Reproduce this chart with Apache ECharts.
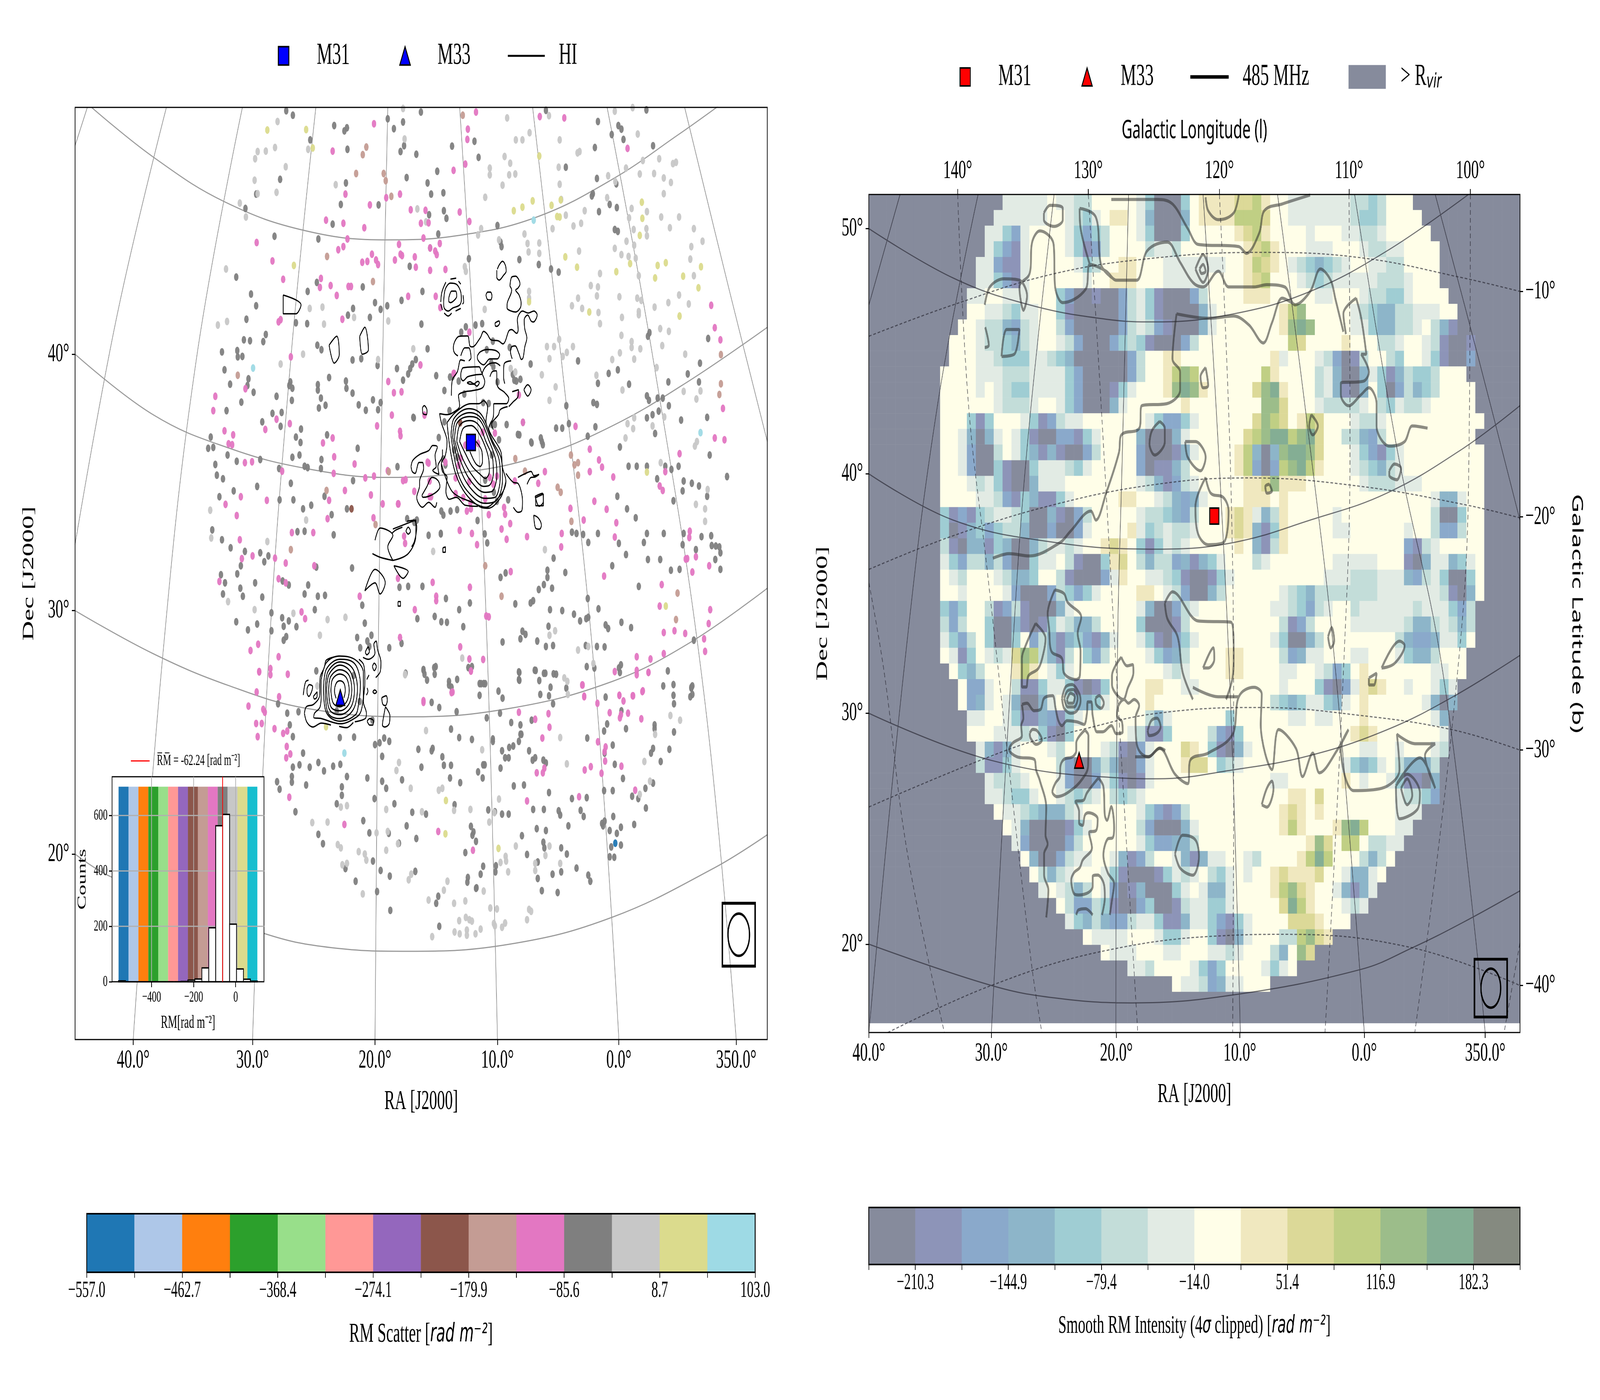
<!DOCTYPE html>
<html><head><meta charset="utf-8">
<style>html,body{margin:0;padding:0;background:#fff;overflow:hidden}#c{width:7140px;height:3585px;transform-origin:0 0}</style>
<script src="https://cdn.jsdelivr.net/npm/echarts@6/dist/echarts.min.js"></script>
</head><body><div id="c"></div>
<script>
// ---- left colour scale
const scatterColors=['#1f77b4','#aec7e8','#ff7f0e','#2ca02c','#98df8a','#ff9896','#9467bd','#8c564b','#c49c94','#e377c2','#7f7f7f','#c7c7c7','#dbdb8d','#9edae5'];
const scatterEdges=[-557,-509.9,-462.7,-415.6,-368.4,-321.3,-274.1,-227,-179.9,-132.7,-85.6,-38.4,8.7,55.9,103];
const scatterEdgeLabels=[-557,-462.7,-368.4,-274.1,-179.9,-85.6,8.7,103];
// ---- right colour scale
const heatColors=['#868b9c','#8d94b8','#8aa9cb','#8db5c9','#9fcdd3','#c3ddd9','#e2ebe4','#fffee8','#f0e8bf','#dcd998','#c0cf84','#9cbd8a','#84ae94','#858a80'];
const heatEdges=[-243,-210.3,-177.5,-144.9,-112.1,-79.4,-46.7,-14,18.7,51.4,84.2,116.9,149.6,182.3,215];
const heatEdgeLabels=[-210.3,-144.9,-79.4,-14,51.4,116.9,182.3];
// ---- axis ticks
const raTicksL=[261,495,735,975,1213,1443], raLabels=['40.0°','30.0°','20.0°','10.0°','0.0°','350.0°'];
const decTicksL=[790,1362,1905], decLabelsL=['40°','30°','20°'];
const raTicksR=[135,375,620,862,1106,1343];
const decTicksR=[510,1057,1591,2106], decLabelsR=['50°','40°','30°','20°'];
const lonTicks=[309,565,822,1076,1314], lonLabels=['140°','130°','120°','110°','100°'];
const latTicks=[650,1153,1673,2198], latLabels=['−10°','−20°','−30°','−40°'];
// ---- histogram inset
const histStart=[-557,-524,-491,-458,-425,-392,-359,-326,-293,-260,-227,-194,-161,-128,-95,-62,-29,4,37,70];
const histCounts=[3,0,0,0,0,0,0,0,0,1,6,10,50,195,563,604,208,46,9,2];
const meanRM=-62.24;
const bandColors=['#1f77b4','#aec7e8','#ff7f0e','#2ca02c','#98df8a','#ff9896','#9467bd','#8c564b','#c49c94','#e377c2','#7f7f7f','#c7c7c7','#dbdb8d','#17becf'];
// ---- RM sources, upper sheet (sky-plane units A)
const ptsPinkA=[[733,276],[933,250],[1106,263],[1058,260],[917,288],[916,311],[1230,331],[652,337],[912,366],[889,380],[677,433],[784,433],[725,457],[757,441],[805,468],[834,469],[901,473],[825,498],[840,497],[920,494],[639,491],[673,498],[714,508],[830,531],[681,533],[503,541],[782,545],[862,543],[843,553],[673,550],[663,557],[853,560],[856,568],[729,567],[785,567],[813,573],[534,582],[710,585],[720,583],[737,580],[741,590],[774,580],[788,570],[815,596],[843,603],[873,601],[555,623],[629,621],[627,641],[648,637],[683,639],[688,639],[660,659],[800,661],[854,661],[863,686],[550,713],[546,718],[671,712],[570,796],[824,814],[761,851],[772,876],[787,874],[889,833],[1017,881],[422,884],[418,916],[481,867],[832,926],[768,926],[542,935],[568,945],[520,958],[440,961],[457,970],[448,990],[455,992],[739,950],[784,962],[785,972],[652,977],[633,988],[1025,942],[1128,951],[655,1019],[480,1032],[494,1030],[695,1035],[553,1051],[654,1056],[716,1066],[733,1062],[795,1070],[790,1072],[760,1050],[840,1033],[1068,1052],[1156,1002],[1174,1026],[1180,1042],[1156,1052],[1202,1064],[1293,1084],[1299,1094],[1304,1052],[1332,1012],[1412,758],[1401,731],[1394,681],[1417,911],[1401,977],[1420,981],[472,1108],[442,1125],[464,1150],[523,1116],[676,1094],[645,1116],[642,1157],[727,1104],[732,1155],[750,1124],[781,1124],[842,1108],[901,1183],[925,1190],[983,1180],[988,1132],[990,1147],[1000,1168],[993,1203],[935,1215],[1033,1197],[1101,1190],[1100,1220],[1118,1134],[1144,1160],[1165,1118],[1189,1136],[1208,1166],[1205,1198],[1184,1285],[1297,1304],[1293,1352],[1392,1360],[1389,1391],[1352,1185],[1351,1199],[1347,1246],[1344,1247],[1357,1276],[1364,1242],[1390,1262],[572,1188],[614,1188],[470,1204],[474,1246],[495,1240],[539,1245],[560,1256],[616,1262],[430,1297],[546,1291],[560,1300],[705,1330],[813,1360],[848,1299],[855,1330],[855,1340],[780,1290],[921,1310],[1001,1275],[953,1374],[958,1376],[591,1365],[598,1380],[491,1451],[506,1437],[546,1465],[508,1498],[530,1505],[784,1422],[902,1443],[1382,1453],[1380,1425],[1301,1411],[1322,1407],[1343,1413],[1248,1465],[1275,1470],[1301,1458],[1248,1505],[1271,1500],[1205,1498],[1141,1528],[1214,1551],[1240,1552],[1260,1541],[1145,1553],[920,1470],[947,1471],[923,1497],[830,1563],[885,1545],
[920,741],[890,833],[970,966],[946,964],[912,993],[937,989],[903,1022],[899,1038],[873,1031],[893,1066],[960,1065],[967,1080],[974,1062],[920,1074],[893,1101],[908,1110],[922,1121],[951,1113],[915,1140],[923,1135],[958,1148],[792,1196],[794,1212],[838,1031],[842,1073],[845,1108],[812,1096],[780,1124],[1009,1073],[1055,1078]];
const ptsTanA=[[907,257],[711,345],[698,387],[752,387],[756,403],[767,438],[641,572],[731,628],[466,837],[1413,791],[1413,856],[1410,880],[1010,1023],[1029,1051],[1119,1015],[1133,1032],[1126,1037],[1133,1060],[1093,1087],[1099,1098],[762,1052],[1120,1163],[640,1094],[736,1170],[570,1226],[951,1262],[983,1330],[1328,1323],[1325,1382],[718,328]];
const ptsBrownA=[[689,1135],[902,943]];
const ptsCyanA=[[1046,491],[496,821],[1373,965]];
const ptsKhakiA=[[524,290],[600,289],[613,330],[1057,348],[1007,470],[1024,462],[1044,448],[1081,458],[1099,446],[1092,483],[1097,484],[1258,451],[1259,487],[1254,525],[1108,573],[1131,596],[1208,606],[1235,588],[1289,592],[1305,586],[1284,620],[1339,616],[1374,595],[1369,642],[1332,705],[1155,696],[1037,673],[576,592],[1268,1053],[1305,1352]];
const ptsLightA=[[790,242],[994,263],[1205,248],[1240,240],[1076,258],[544,271],[1097,312],[1011,312],[1024,312],[1038,296],[1250,299],[1136,338],[1132,341],[793,310],[539,329],[521,337],[505,338],[500,354],[604,333],[560,372],[499,402],[542,429],[505,432],[658,412],[470,453],[482,484],[818,466],[835,495],[989,349],[1000,364],[960,375],[960,390],[998,390],[1010,388],[985,413],[1095,373],[1097,411],[1100,445],[951,440],[1192,392],[1206,405],[1190,441],[1260,358],[1227,375],[1254,388],[1282,387],[1292,354],[1319,365],[1325,362],[1301,397],[1315,407],[1301,432],[1238,465],[1233,486],[1268,472],[1296,484],[1331,484],[1313,508],[1360,510],[1377,538],[1355,550],[1267,510],[1242,512],[1268,526],[1228,538],[1243,547],[1205,554],[1218,568],[1232,572],[1246,576],[1353,578],[1360,615],[1252,615],[1083,510],[1124,504],[1139,498],[1146,470],[1109,480],[943,510],[937,524],[1028,522],[978,535],[1034,543],[1057,542],[1036,562],[1057,565],[1135,560],[443,600],[607,688],[632,685],[1176,610],[1158,637],[1172,640],[1170,660],[1133,665],[1121,682],[1141,688],[1173,697],[1176,722],[1219,708],[1214,662],[1249,665],[1257,670],[1252,695],[1252,702],[1283,685],[1310,675],[1331,658],[1350,678],[1294,733],[1311,739],[1218,748],[1238,762],[1255,778],[1238,775],[1298,771],[1343,790],[1200,802],[1215,787],[1243,801],[1169,837],[1220,870],[1287,820],[1365,890],[1373,872],[1340,873],[1077,893],[1089,863],[1010,830],[1001,822],[1072,773],[1086,773],[1123,773],[1096,757],[1077,800],[1062,836],[1103,795],[1111,786],[1230,945],[1243,932],[1241,956],[1226,977],[1279,950],[1302,930],[1362,995],[1366,985],[1295,1032],[1037,650],[1037,665],[950,690],[427,725],[445,717],[594,790],[550,812],[741,802],[761,716],[694,708],[635,723],[810,778],[412,1138],[600,1160],[414,1200],[524,1208],[849,1230],[1068,1226],[1387,1092],[1382,1135],[1382,1163],[1364,1125],[499,1360],[575,1368],[447,1342],[642,1382],[627,1417],[677,1377],[1077,1417],[1088,1407],[1133,1450],[906,1468],[1153,1442],[1163,1480],[794,1505],[1112,1520],[911,595],[913,605]];
const ptsGrayA=[[561,247],[574,257],[655,280],[680,285],[675,292],[760,265],[790,272],[772,287],[825,250],[1070,246],[1172,271],[1212,280],[1218,288],[1267,245],[608,312],[681,333],[792,325],[785,338],[816,344],[886,326],[930,315],[938,351],[1166,329],[1280,325],[1199,300],[1222,311],[549,400],[678,408],[797,396],[857,382],[838,408],[1109,373],[1170,398],[1208,410],[1162,432],[1160,437],[502,433],[845,433],[869,430],[742,457],[668,456],[481,465],[870,470],[841,479],[875,487],[1174,472],[1195,456],[1209,463],[1205,512],[1211,516],[975,503],[538,527],[624,533],[652,500],[859,522],[843,553],[981,540],[983,550],[803,594],[919,577],[1018,579],[1056,590],[1080,600],[1095,607],[463,618],[621,630],[603,650],[711,640],[492,656],[828,650],[502,682],[692,688],[682,703],[725,708],[746,690],[759,682],[735,675],[787,670],[483,712],[580,720],[602,722],[826,723],[932,725],[945,722],[521,746],[516,762],[490,760],[478,758],[465,782],[466,796],[435,785],[440,825],[451,857],[475,795],[838,778],[622,770],[630,780],[691,803],[708,800],[740,815],[778,822],[815,802],[808,812],[804,822],[800,834],[855,838],[790,848],[645,842],[623,858],[623,870],[678,850],[679,866],[691,877],[569,852],[573,866],[567,860],[487,845],[485,860],[497,875],[542,884],[473,897],[444,916],[572,893],[629,888],[638,904],[625,910],[703,903],[731,892],[746,898],[741,914],[717,915],[811,932],[1008,848],[1040,812],[1133,805],[1172,855],[1193,833],[1211,825],[1233,857],[1268,883],[1272,893],[1289,888],[1299,888],[1311,905],[1291,917],[1279,925],[1268,932],[1335,937],[1386,931],[1372,810],[1388,755],[1348,834],[1370,852],[1273,742],[1270,750],[1310,852],[1163,898],[1170,902],[1110,905],[514,941],[534,922],[552,920],[550,951],[590,957],[580,975],[641,970],[701,1000],[589,987],[587,1015],[413,975],[408,1000],[418,998],[446,1015],[422,1036],[464,1029],[510,1025],[547,1045],[573,1020],[597,1040],[603,1043],[630,1025],[629,1045],[1018,970],[1062,985],[1042,988],[1090,955],[1102,955],[1115,945],[1152,973],[1167,952],[1215,997],[1284,967],[1391,1015],[1232,1040],[1248,1040],[1268,1040],[1304,1040],[1316,1047],[1330,1040],[1288,1068],[1340,1073],[1356,1078],[1338,1095],[1370,1084],[1386,1107],[1320,1117],[1425,1063],[425,1060],[437,1068],[504,1085],[570,1078],[692,1072],[636,1107],[458,1095],[430,1108],[548,1115],[575,1115],[594,1135],[610,1127],[680,1135],[650,1148],[1210,1107],[1229,1135],[1246,1155],[654,1193],[597,1185],[583,1186],[416,1182],[435,1204],[452,1222],[480,1230],[510,1233],[518,1253],[526,1240],[472,1262],[465,1280],[433,1282],[441,1300],[471,1312],[437,1325],[476,1330],[500,1300],[514,1332],[566,1305],[554,1296],[604,1305],[597,1325],[620,1265],[623,1330],[637,1328],[690,1267],[710,1350],[864,1190],[840,1194],[874,1335],[828,1308],[800,1308],[783,1310],[1172,1190],[1130,1190],[1143,1192],[1153,1210],[1121,1187],[1200,1262],[1227,1237],[1213,1212],[1268,1190],[1301,1190],[1262,1210],[1294,1248],[1270,1248],[1315,1272],[1332,1270],[1340,1190],[1338,1215],[1364,1226],[1394,1195],[1375,1197],[1395,1217],[1403,1218],[1410,1220],[1412,1233],[1402,1248],[1412,1270],[1252,1308],[1066,1304],[1082,1312],[1056,1315],[1085,1245],[1073,1272],[1108,1277],[1073,1288],[1045,1340],[1010,1347],[1040,1345],[1152,1335],[1078,1360],[1102,1362],[1125,1370],[1173,1358],[1187,1394],[1137,1385],[1153,1377],[1149,1380],[1218,1388],[1192,1402],[1237,1400],[991,1278],[981,1288],[921,1345],[900,1360],[865,1387],[852,1375],[876,1388],[908,1398],[818,1380],[1075,1397],[1024,1408],[1030,1415],[1020,1425],[985,1432],[1053,1430],[1070,1442],[1084,1440],[1148,1440],[1170,1442],[1185,1443],[1360,1428],[463,1387],[504,1392],[486,1405],[553,1378],[566,1385],[556,1397],[581,1398],[561,1420],[556,1428],[617,1360],[532,1367],[532,1407],[715,1390],[700,1422],[728,1417],[724,1442],[706,1445],[763,1445],[787,1435],[854,1487],[852,1504],[837,1517],[880,1520],[885,1533],[943,1525],[925,1487],[951,1525],[1018,1500],[1017,1516],[1048,1495],[1066,1502],[1085,1503],[1079,1533],[1057,1518],[1110,1535],[1150,1487],[1165,1490],[1217,1483],[1213,1490],[1300,1530],[1355,1535],[1357,1530],[1320,1527],[1187,1555],[1215,1500],[720,1430],[830,1495],
[947,898],[958,900],[964,947],[970,947],[978,981],[993,947],[1015,969],[1025,942],[1041,986],[1060,977],[1064,992],[964,1015],[951,1071],[968,1098],[974,1118],[996,1115],[865,1140],[869,1149],[883,1140],[896,1137],[936,1161],[798,1157],[812,1165],[817,1160],[864,1191],[950,1191],[955,1211],[890,1004],[896,1020],[881,916],[871,941],[860,976],[869,1024],[873,1037],[810,931],[779,1041],[966,761],[954,780],[963,809],[967,818],[975,852],[999,775],[1005,835],[1012,850],[1020,846],[910,879],[899,850],[882,841],[887,840],[871,871],[904,741],[913,729]];
// ---- RM sources, lower sheet (sky-plane units B)
const ptsPinkB=[[508,17],[530,10],[564,22],[547,70],[503,60],[487,90],[516,97],[519,103],[502,127],[513,127],[538,138],[505,155],[555,148],[563,143],[562,176],[569,192],[561,200],[567,284],[675,342],[830,82],[1017,103],[1049,118],[1075,106],[1077,135],[1063,158],[1142,45],[1145,70],[1171,84],[1214,67],[1222,79],[1241,68],[1259,59],[1271,18],[1248,14],[1195,104],[1217,108],[1231,105],[1215,115],[1257,117],[1172,166],[1187,177],[1185,187],[1186,207],[1158,219],[1146,226],[1179,233],[1218,218],[1067,222],[1064,232],[1052,232],[1135,283],[1033,292],[1245,269],[859,357],[927,397],[923,15],[887,60]];
const ptsBlueB=[[1206,382]];
const ptsCyanB=[[675,190]];
const ptsKhakiB=[[639,134],[874,291],[873,362],[977,393]];
const ptsLightB=[[794,22],[1106,30],[1113,65],[1098,157],[1333,120],[1314,110],[1284,150],[1263,208],[1274,250],[1254,278],[1111,213],[1077,388],[1069,408],[1098,425],[1049,425],[1049,440],[1011,388],[991,410],[992,420],[981,423],[996,443],[978,288],[969,317],[959,337],[922,310],[890,312],[860,269],[867,265],[827,315],[805,265],[782,210],[777,227],[835,142],[945,183],[780,383],[760,357],[757,310],[738,360],[668,305],[680,302],[612,338],[642,337],[662,385],[668,392],[703,400],[715,405],[718,418],[671,428],[680,425],[757,397],[711,490],[801,460],[806,448],[870,482],[877,463],[948,484],[890,510],[912,505],[840,503],[847,581],[891,571],[901,575],[900,547],[913,540],[920,545],[925,548],[915,567],[915,578],[932,575],[942,565],[961,520],[974,522],[968,553],[970,558],[984,561],[990,552],[1037,523],[1041,527],[1033,545],[622,47]];
const ptsGrayB=[[620,15],[795,20],[830,12],[851,8],[832,22],[918,8],[880,45],[896,33],[940,42],[948,42],[1017,17],[1018,35],[1050,14],[1069,20],[1090,22],[1084,85],[1059,65],[1076,68],[940,67],[977,58],[985,73],[846,82],[861,93],[895,102],[980,105],[954,115],[1002,125],[1020,130],[1042,120],[1020,150],[1017,165],[1218,100],[1190,128],[1184,143],[1185,190],[1227,138],[1201,173],[1151,158],[1283,130],[1283,138],[1321,145],[1320,67],[1321,85],[1355,50],[1353,70],[1357,65],[1309,15],[1280,180],[1276,190],[1312,182],[1295,208],[1280,254],[1265,265],[1239,282],[1251,287],[1266,307],[1243,342],[1184,270],[1201,270],[1221,244],[1205,214],[1150,285],[1121,287],[1138,312],[1144,325],[1114,345],[1076,274],[1027,258],[1007,260],[1045,310],[1066,310],[1095,313],[1098,322],[1052,351],[1070,355],[1023,366],[1100,392],[1111,405],[1065,380],[1067,392],[1033,406],[1054,422],[1054,457],[1083,448],[1100,443],[1130,435],[1153,450],[1157,463],[1062,483],[1093,487],[1195,411],[1204,412],[1198,390],[1217,386],[1209,361],[1202,325],[1195,355],[1182,345],[1185,335],[1217,348],[1180,340],[1065,205],[1044,205],[1070,211],[1049,200],[1037,185],[1006,175],[998,178],[1022,150],[990,200],[997,200],[966,160],[966,165],[925,161],[900,157],[884,139],[984,185],[947,215],[950,215],[937,230],[946,243],[981,222],[970,315],[957,311],[984,320],[997,320],[923,346],[928,358],[926,365],[933,378],[912,402],[947,431],[942,448],[917,455],[916,465],[972,430],[971,443],[933,478],[891,300],[902,253],[882,243],[870,216],[884,216],[867,198],[848,180],[846,185],[826,220],[820,182],[808,316],[835,320],[797,345],[816,372],[782,382],[773,298],[788,247],[746,440],[764,452],[749,250],[734,287],[757,265],[724,360],[762,361],[712,334],[720,243],[680,240],[670,262],[670,280],[660,298],[624,363],[633,383],[600,258],[574,220],[587,215],[607,220],[624,210],[635,228],[653,218],[667,214],[572,240],[572,252],[543,251],[548,267],[579,315],[594,190],[568,130],[574,155],[585,102],[563,105],[545,85],[666,157],[694,156],[735,172],[744,168],[763,165],[749,197],[730,120],[753,158],[693,25],[705,80],[660,100],[739,485],[697,463],[731,420],[814,442],[765,525],[677,436],[855,510],[859,495],[861,559],[934,477]];
// ---- smoothed RM map: one row per line, one level (0-d) per cell
const heatRows=[
"0000000000 0000066666 7665577777 6400047888 899a877666 6666554577 7000000000 000",
"0000000000 0000666666 7765467887 6300037888 8aaa977666 6666544577 7700000000 000",
"0000000000 0006642677 7764245777 6400047777 789a877776 7776655677 7770000000 000",
"0000000000 0006421677 7764125777 7566577777 7789a87776 6677765566 7777000000 000",
"0000000000 0066211677 7776457788 7776666666 778a987654 3456776655 7777000000 000",
"0000000000 0066421677 7777677888 7776666677 7789a77765 4566666555 6777000000 000",
"0000000000 0667766677 7420010025 6410002577 7788877777 6677765544 6777700000 000",
"0000000000 0776654667 7410000025 6410000367 7777778ab7 7777654335 5666770000 000",
"0000000000 7765532567 7520000025 6521000367 7777778bcb 7777664335 5675310000 000",
"0000000007 7765543567 7652000245 4100025777 7777777a97 7778777556 7765100100 000",
"0000000007 7766544466 5430000002 5778877777 7777786777 6520157754 7764100200 000",
"0000000077 7766655566 6642000002 5778aba777 7777a87777 5630036413 5445777000 000",
"0000000077 7767654466 6642000146 7778bcb877 7779bc8777 5631037402 5345777700 000",
"0000000077 7777655567 7642000367 7777787777 7777bb9777 6555567546 5567777700 000",
"0000000077 7414777641 2566777777 7642246777 7779ba978a 9777655677 7777777770 000",
"0000000077 6303676410 0221467777 3000367777 779abccabc 9775532577 7777777700 000",
"0000000077 6200576431 3100257777 2000136777 78a303bccb 9777642146 7777777770 000",
"0000000077 6200410046 6654677777 2011357777 78a202abca 8777654356 7777777770 000",
"0000000077 7656410036 6677777777 6531256777 77889b8887 7777765556 6677777770 000",
"0000000077 7766521431 1467777788 7765323677 7788878777 7777777777 7776336770 000",
"0000000041 2145665400 3102577777 6554325777 8986358777 7767777777 7775004770 000",
"0000000040 1342455300 2002677778 6456556777 8983148777 7766777777 6775225770 000",
"0000000051 0331430035 6656778987 4146567777 7873158777 7777777777 2156777770 000",
"0000000064 2553520046 6751004897 5355231346 7775677777 7766666777 1036634670 000",
"0000000076 5777653347 7510002687 7665410014 6777777777 7666555666 3256400470 000",
"0000000077 6777762000 2542467777 8876520035 7777776543 5555555666 6666510370 000",
"0000000042 4775125100 0367777777 6300256777 7777766542 5677566666 6566642500 000",
"0000000052 5774003101 4653357777 4000157777 7777775125 7777666666 5335653500 000",
"0000000064 2574004725 3134213677 6410246777 7777764003 5777777775 3223664700 000",
"0000000076 1476569ba5 3157425777 7642357777 8877775236 6777667776 4335777000 000",
"0000000007 4357778a87 6467777777 7776567777 8877776677 6524787777 7776677000 000",
"0000000000 7226775114 6641014777 7887766777 7777776777 4102689877 6776460000 000",
"0000000000 7236763003 6753346777 7877777777 7777754346 6436787777 7763030000 000",
"0000000000 0667764113 2146777777 7536777777 4777777667 6677787777 7776300000 000",
"0000000000 0777666564 1047777776 5114777752 1477777777 7777898777 7777600000 000",
"0000000000 0063136777 6577776510 2677798741 0367777777 7777766776 7776500000 000",
"0000000000 0051146777 7520035300 2677789974 5677777777 7776434675 3335000000 000",
"0000000000 0006555677 7620026410 1677777777 7777766777 7778767764 1103000000 000",
"0000000000 0006654467 7654567545 6777777777 7777777887 9777777776 5542000000 000",
"0000000000 0000766543 3356777777 6421257777 7777778987 8777777776 6600000000 000",
"0000000000 0000076300 0014677777 5200036777 7777778a87 778bca7776 6000000000 000",
"0000000000 0000006200 0025777777 6422335777 7777777778 b97aa75566 0000000000 000",
"0000000000 0000000730 0256677631 2577631366 776577778a ca77753570 0000000000 000",
"0000000000 0000000075 3567776410 0014656754 6767789888 9776336700 0000000000 000",
"0000000000 0000000006 7653576201 3000467633 677778ab98 7763136000 0000000000 000",
"0000000000 0000000000 0752254100 2400156644 6777779ca8 7776560000 0000000000 000",
"0000000000 0000000000 0064353225 6641136642 1467777999 8777000000 0000000000 000",
"0000000000 0000000000 0000766667 7764467741 03677755ab 9800000000 0000000000 000",
"0000000000 0000000000 0000007666 7776677766 56777537b9 0000000000 0000000000 000",
"0000000000 0000000000 0000000006 6577776424 7777646700 0000000000 0000000000 000",
"0000000000 0000000000 0000000000 0000766523 6677700000 0000000000 0000000000 000",
"0000000000 0000000000 0000000000 0000000000 0000000000 0000000000 0000000000 000",
"0000000000 0000000000 0000000000 0000000000 0000000000 0000000000 0000000000 000"];
// ---- left graticule (sheet A)
const gratDecL=[
[[180,240],[300,350],[440,450],[600,515],[760,535],[900,525],[1050,485],[1200,400],[1330,300],[1410,235]],
[[147,790],[300,925],[450,1000],[600,1045],[760,1065],[900,1055],[1050,1020],[1200,950],[1350,850],[1504,730]],
[[147,1362],[300,1458],[450,1530],[600,1580],[800,1599],[1000,1580],[1200,1520],[1350,1435],[1504,1312]],
[[147,1905],[220,1957],[520,2083],[650,2114],[800,2122],[1000,2106],[1200,2046],[1400,1936],[1504,1862]]];
const gratRaL=[
[[171,240],[147,325]],
[[326,240],[230,700],[147,1215]],
[[475,240],[385,800],[320,1450],[261,2319]],
[[619,240],[570,800],[525,1500],[495,2319]],
[[760,240],[750,800],[742,1400],[735,2319]],
[[901,240],[930,800],[955,1450],[975,2319]],
[[1044,240],[1100,800],[1165,1500],[1213,2319]],
[[1190,240],[1280,800],[1380,1550],[1443,2319]],
[[1342,240],[1430,650],[1504,985]]];
// ---- right graticule (sheet C)
const gratSolidR=[
[[135,510],[300,620],[450,680],[600,712],[700,718],[850,700],[1000,650],[1150,560],[1310,434]],
[[135,1057],[300,1160],[500,1210],[700,1225],[850,1210],[1000,1160],[1150,1100],[1300,1000],[1411,905]],
[[135,1591],[375,1696],[625,1735],[700,1737],[850,1717],[1000,1685],[1150,1628],[1280,1554],[1411,1462]],
[[135,2106],[375,2198],[500,2226],[650,2237],[850,2219],[1100,2162],[1200,2114],[1300,2057],[1411,1987]],
[[196,434],[135,680]],
[[349,434],[270,900],[205,1481],[135,2303]],
[[498,434],[445,1000],[415,1481],[375,2303]],
[[644,434],[632,1000],[622,1481],[619,2303]],
[[790,434],[820,1000],[845,1600],[863,2303]],
[[936,434],[1000,1000],[1050,1500],[1106,2303]],
[[1087,434],[1170,1000],[1260,1500],[1343,2303]],
[[1245,434],[1330,800],[1411,1160]]];
const gratDashR=[
[[135,750],[300,680],[500,610],[700,575],[900,563],[1100,575],[1300,620],[1411,650]],
[[135,1270],[300,1195],[500,1125],[700,1080],[880,1066],[1100,1085],[1300,1125],[1411,1155]],
[[135,1800],[415,1669],[550,1628],[700,1591],[900,1578],[1100,1596],[1280,1628],[1411,1673]],
[[172,2303],[375,2198],[600,2120],[850,2086],[950,2084],[1200,2114],[1411,2198]],
[[135,1300],[165,1500],[210,1900],[283,2303]],
[[309,434],[330,900],[366,1263],[452,2135],[474,2303]],
[[565,434],[590,900],[620,1500],[662,2303]],
[[822,434],[845,1100],[850,1700],[848,2303]],
[[1076,434],[1078,1000],[1065,1500],[1029,2303]],
[[1314,434],[1310,1100],[1280,1600],[1205,2303]],
[[1411,2104],[1380,2303]]];
// ---- HI contours, M31 field (sheet D)
const hiM31=[
[[495,320],[520,285],[555,285],[565,310],[545,330],[510,343],[495,335],[495,320]],
[[450,340],[465,275],[510,245],[560,250],[600,290],[605,330],[590,355],[530,370],[490,385],[455,370],[450,340]],
[[425,340],[435,290],[470,240]],[[510,225],[560,220]],[[580,235],[600,250]],[[620,305],[625,340],[615,350]],[[600,372],[555,385]],[[520,395],[490,410],[455,395]],[[440,380],[425,350]],
[[920,175],[935,155],[965,135],[990,155],[997,185],[975,205],[935,230],[915,215],[915,180]],
[[820,305],[835,290],[860,290],[873,310],[860,330],[835,328],[820,305]],
[[1030,260],[1045,215],[1080,210],[1105,225],[1118,250],[1100,270],[1080,280],[1110,305],[1128,345],[1120,370],[1080,390],[1040,385],[1005,370],[1005,355],[1045,280],[1030,260]],
[[900,445],[935,435],[940,445],[915,462],[903,460],[900,445]],
[[575,610],[545,595],[535,570],[550,535],[585,512],[660,510],[680,560],[700,565],[770,520],[800,487],[830,500],[865,530],[930,535],[970,550],[990,535],[1020,485],[1045,478],[1090,497],[1102,480],[1095,430],[1140,385],[1190,395],[1240,385],[1268,405],[1235,440],[1215,435],[1185,405],[1155,430],[1160,475],[1178,520],[1160,565],[1145,620],[1130,628],[1110,600],[1075,560],[1045,565],[1035,590],[1050,625]],
[[1040,635],[1000,640],[980,650],[975,680],[975,720],[985,750]],
[[600,610],[635,570],[670,570],[690,620],[670,635]],
[[635,635],[600,630],[570,690],[530,725],[520,760],[518,810]],
[[745,610],[770,590],[830,578],[900,582],[940,605],[920,625],[855,625],[800,655],[745,620],[745,610]],
[[600,700],[620,670],[760,665],[780,690],[790,700],[730,705],[660,715],[620,735],[600,715],[600,700]],
[[655,745],[680,740],[715,750],[750,738],[762,745],[740,762],[715,752],[680,752],[655,745]],
[[785,700],[810,670],[850,650],[900,645],[945,660]],
[[790,705],[810,740],[790,770],[700,785],[640,790],[580,810],[590,860],[570,880],[480,905],[415,900],[430,945],[470,1010],[480,1040],[465,1110],[430,1150],[440,1190],[480,1220],[470,1290],[500,1330],[560,1320],[640,1360],[750,1365]],
[[855,715],[875,690],[910,685],[920,760],[985,795],[1020,825],[1000,850],[950,850],[890,850],[885,915],[845,975],[870,1010],[950,1090],[965,1170],[995,1240],[970,1290],[900,1340],[820,1370],[700,1345],[540,1300],[480,1240],[430,1150]],
[[680,1090],[730,1150],[770,1165],[790,1140],[785,1090],[735,1040]],
[[590,1040],[620,975],[690,960],[750,990],[810,1060],[845,1130],[850,1190],[815,1225],[770,1205],[700,1165],[640,1100],[590,1040]],
[[565,1040],[590,960],[680,935],[760,960],[820,1040],[880,1130],[885,1200],[850,1260],[800,1265],[700,1210],[620,1130],[565,1040]],
[[545,1030],[570,945],[680,915],[770,935],[850,1040],[905,1130],[915,1210],[875,1290],[810,1295],[690,1240],[600,1140],[545,1030]],
[[530,1020],[555,935],[680,895],[780,925],[870,1040],[935,1130],[945,1220],[900,1320],[810,1325],[680,1270],[590,1170],[530,1020]],
[[515,1010],[540,925],[670,875],[780,905],[880,1040],[955,1130],[965,1230],[920,1330],[810,1350],[660,1290],[570,1190],[515,1010]],
[[480,945],[510,1090],[560,1210],[640,1300],[760,1365],[840,1375],[950,1320],[995,1240]],
[[480,945],[560,890],[690,850],[760,850],[800,835],[835,870],[820,940],[860,1000]],
[[165,1165],[180,1135],[240,1105],[320,1085],[355,1060],[395,1068],[375,1110],[385,1165],[355,1185],[410,1205],[400,1165],[440,1110],[440,1080]],
[[165,1165],[175,1190],[200,1200],[235,1145],[265,1145],[275,1175],[240,1240],[240,1260],[215,1320],[265,1370],[320,1345],[375,1370],[390,1345]],
[[260,1310],[300,1270],[350,1220],[400,1235],[418,1265],[370,1300],[270,1320],[260,1310]],
[[995,1200],[1060,1245],[1100,1250],[1140,1340],[1135,1385],[1100,1395],[1060,1370]],
[[1100,1220],[1150,1205],[1215,1190],[1240,1212],[1285,1205],[1250,1218],[1215,1220],[1180,1255]],
[[1250,1315],[1315,1300],[1322,1340],[1285,1365],[1250,1315]],
[[1238,1410],[1280,1425],[1305,1460],[1290,1480],[1255,1475],[1238,1410]],
[[1152,780],[1185,755],[1215,780],[1185,812],[1152,780]],
[[265,870],[280,860],[305,885],[300,905],[270,900],[265,870]],
[[1020,865],[1060,840],[1100,815],[1105,780],[1050,790]],
[[885,980],[870,955],[930,905],[945,880],[1010,865]],
[[120,1490],[140,1470],[160,1490],[140,1505],[120,1490]],
[[0,1500],[30,1485],[90,1470]],
[[130,1440],[190,1435],[215,1470],[195,1540],[170,1568]]];
// ---- HI contours, other clouds (sheet A)
const hiOther=[
[[735,1205],[745,1178],[770,1195],[760,1220],[770,1250],[745,1243],[730,1235]],
[[770,1180],[815,1160],[815,1195],[800,1235],[770,1250]],
[[715,1318],[735,1270],[755,1300],[745,1325],[735,1300],[715,1318]],
[[772,1262],[800,1275],[790,1290],[772,1262]],
[[868,1222],[873,1220],[873,1232],[868,1232],[868,1222]],
[[780,1342],[785,1342],[785,1352],[780,1352],[780,1342]],
[[555,658],[590,680],[580,700],[555,700],[555,658]],
[[645,770],[660,750],[665,790],[655,810],[645,770]],
[[705,750],[715,730],[722,780],[710,790],[705,750]],
[[1050,1110],[1065,1102],[1065,1128],[1050,1128],[1050,1110]]];
// ---- HI contours, M33 field (sheet E)
const hiM33=[
[[600,445],[578,390],[600,330],[650,310],[705,330],[722,385],[705,440]],
[[530,390],[550,300],[650,258],[740,290],[775,385],[740,470],[650,510],[560,480],[530,390]],
[[500,380],[525,280],[650,225],[770,265],[810,380],[770,490],[650,540],[530,510],[500,380]],
[[472,375],[505,260],[650,190],[790,240],[845,375],[800,510],[650,570],[510,530],[472,375]],
[[455,370],[490,240],[650,165],[820,215],[885,370],[830,530],[650,600],[490,555],[455,370]],
[[430,370],[470,220],[650,145],[850,180],[925,340],[900,490],[860,570],[650,620],[470,555],[430,370]],
[[400,300],[470,170],[650,120],[860,150],[965,250],[965,400],[935,540],[870,590],[660,640],[400,600],[300,590],[310,560],[385,510],[400,400],[400,300]],
[[905,145],[970,190],[985,320],[965,470],[1005,560],[990,600],[850,625]],
[[175,560],[200,510],[300,490],[380,420],[385,290],[440,210],[470,150],[640,120]],
[[175,560],[210,630],[290,665],[400,635],[530,650]],
[[640,660],[740,670],[830,630]],
[[210,370],[240,340],[285,355],[270,395],[235,430],[210,400],[210,370]],
[[295,430],[345,395],[345,430],[310,450],[295,430]],
[[160,420],[190,320],[230,305]],
[[1015,620],[1050,600],[1100,620],[1090,650],[1050,650],[1015,620]],
[[1210,440],[1270,425],[1285,460],[1260,500],[1225,490],[1210,440]],
[[1260,510],[1320,580],[1310,640],[1250,665],[1220,650],[1240,570],[1260,510]],
[[1085,200],[1110,175],[1138,200],[1110,232],[1085,200]],
[[990,90],[1030,50],[1045,85],[1010,110],[990,90]],
[[960,130],[1030,145],[1120,95],[1105,30],[1135,5],[1155,70],[1200,170],[1190,240],[1130,285]],
[[1010,300],[1040,265]],
[[1005,420],[1025,390],[1015,365]],
[[1090,395],[1115,380],[1142,395],[1115,408],[1090,395]]];
// ---- 485 MHz contours (sheet C)
const radioC=[
[[362,680],[372,640],[400,622],[430,625],[445,660],[438,692],[430,640],[450,610],[455,540],[470,515],[497,545],[500,640],[515,675],[560,645],[568,590],[600,605],[620,625],[660,625],[680,560],[720,540],[745,585],[770,630],[790,640],[820,605],[840,640],[890,640],[915,635],[950,640],[970,680],[1000,650],[1020,600],[1040,625],[1050,670],[1065,740]],
[[478,475],[490,458],[515,465],[515,490],[498,505],[478,490],[478,475]],
[[548,465],[550,510],[568,590]],[[548,465],[580,485],[590,590],[612,620]],
[[610,445],[700,445],[730,455],[760,510],[780,545],[860,550],[875,565],[900,520],[910,470],[945,455],[1000,435]],
[[795,440],[800,470],[820,490],[850,475],[860,435]],
[[775,600],[790,568],[800,600],[790,630],[775,600]],[[783,600],[790,590],[795,605],[787,610],[783,600]],
[[395,795],[405,735],[430,735],[420,790],[395,795]],
[[363,730],[370,770],[362,775]],
[[738,700],[800,710],[850,705],[880,725],[908,765],[925,720],[945,665],[970,680]],
[[738,700],[730,800],[745,830],[745,870],[720,900],[670,905],[665,955],[630,970],[625,1010],[600,1100],[580,1160],[570,1140],[530,1185],[510,1210],[450,1240],[410,1235],[378,1245]],
[[795,820],[785,840],[790,865],[800,860],[795,820]],
[[705,940],[690,960],[685,990],[695,1015],[715,985],[715,955],[705,940]],
[[755,985],[775,985],[795,1020],[785,1050],[760,1020],[755,985]],
[[795,1065],[775,1130],[780,1190],[800,1215],[830,1210],[840,1140],[830,1110],[805,1100],[795,1065]],
[[920,1080],[925,1095],[915,1100],[912,1085],[920,1080]],
[[1090,665],[1065,700],[1070,745]],
[[1090,665],[1100,710],[1110,790],[1100,790],[1115,830],[1105,850],[1060,855],[1060,880],[1075,905],[1100,880],[1115,865],[1130,900],[1130,950],[1155,995],[1185,985],[1200,950],[1230,955]],
[[1155,1050],[1165,1035],[1178,1045],[1170,1070],[1155,1060],[1155,1050]],
[[1002,925],[1015,950],[1005,970],[998,950],[1002,925]],
[[715,1345],[730,1320],[780,1385],[845,1388],[850,1460],[848,1510],[835,1560]],
[[715,1345],[720,1380],[740,1420],[750,1500],[770,1560]],
[[1140,1490],[1175,1430],[1185,1440],[1165,1480],[1140,1490]],
[[1035,1420],[1042,1400],[1047,1430],[1040,1445],[1035,1420]],
[[790,1490],[810,1445],[812,1470],[800,1490],[790,1490]]];
// ---- 485 MHz contours (sheet F)
const radioF=[
[[657,198],[682,198],[705,180],[735,235],[760,255],[765,205],[800,190],[848,150],[860,70],[890,50],[905,65],[903,130],[925,225],[938,140],[972,180],[985,240],[1005,190],[1018,232],[1055,180],[1075,140],[1060,180],[1085,270],[1140,265],[1175,225],[1170,150],[1205,170],[1245,170],[1225,195],[1245,265]],
[[770,50],[820,70],[860,70]],
[[1168,260],[1190,235],[1215,275],[1210,310],[1175,330],[1168,260]],
[[1178,265],[1190,245],[1200,280],[1190,300],[1178,265]],
[[1245,265],[1215,200],[1170,255]],
[[905,300],[915,265],[925,250],[928,265],[915,305],[905,300]],
[[735,405],[750,365],[775,375],[782,410],[770,450],[745,435],[735,405]],
[[1115,30],[1130,20],[1125,45],[1115,45],[1115,30]]];
// ---- 485 MHz contours (sheet G)
const radioG=[
[[795,95],[860,110],[885,145],[980,205],[955,270],[975,340],[970,440],[945,455],[860,430],[845,370],[770,340],[755,250],[745,190],[795,95]],
[[660,230],[730,290],[715,350],[680,410],[610,440],[595,485],[565,485],[565,370],[590,320],[660,230]],
[[845,530],[870,485],[915,475],[965,510],[975,540],[950,580],[905,590],[860,570],[845,530]],
[[860,530],[885,500],[925,495],[955,530],[930,565],[885,565],[860,530]],
[[880,535],[905,510],[935,525],[920,550],[890,550],[880,535]],
[[565,555],[600,550],[650,580],[695,575],[720,530],[780,520],[800,570],[820,620],[845,640],[880,620],[950,625],[1000,635],[1020,590],[1025,545],[1050,545],[1060,600],[1090,665],[1130,665],[1190,640],[1225,672],[1270,665],[1265,625],[1230,600],[1240,560],[1280,535],[1310,550],[1350,535],[1385,560],[1360,610],[1365,700],[1390,745],[1450,765],[1530,730],[1568,740]],
[[565,555],[575,610],[560,640],[565,680],[500,710],[475,735],[530,765],[650,775],[665,820],[690,860],[735,970],[730,1080],[745,1115],[720,1155],[720,1240],[750,1300],[735,1410]],
[[1260,365],[1300,400],[1340,395],[1345,425],[1305,490],[1275,535],[1195,475],[1195,440],[1260,365]],
[[620,670],[640,655],[670,660],[705,697],[665,715],[625,690],[620,670]],
[[1005,658],[1030,680],[1028,800],[1010,835],[930,890],[810,925],[778,905],[800,870],[830,845],[835,800],[860,775],[920,765],[945,740],[945,710],[1005,658]],
[[1100,850],[1135,885],[1145,1000],[1160,1020],[1190,965],[1210,1050],[1200,1090],[1165,1095],[1135,1160],[1165,1230],[1210,1275],[1195,1340],[1180,1400]],
[[1100,850],[1020,910],[995,940],[940,945],[965,985],[965,1030],[990,1040],[1005,1000],[1030,990],[1095,1015],[1085,1060],[1035,1070],[1055,1130],[990,1180],[970,1210],[930,1230],[910,1260],[930,1315],[960,1320],[1030,1310],[1060,1285],[1060,1245],[1095,1240],[1140,1280],[1145,1330],[1125,1400]],
[[945,1400],[960,1380],[1010,1375],[1060,1400]],
[[1080,530],[1105,520],[1138,550],[1120,570],[1085,555],[1080,530]],
[[1445,660],[1470,620],[1510,610],[1535,645],[1510,670],[1455,680],[1445,660]]];
// ---- named positions
const m31Left=[923,987], m33Left=[667,1556], m31Right=[812,1151], m33Right=[547,1696];
const beamLeft=[1448,2085], beamRight=[1354,2204];

const SERIF='"Liberation Serif",serif', SANS='"Noto Sans",sans-serif';
const joined=list=>{const o=[];list.forEach(c=>{c.forEach(p=>o.push(p));o.push(['-','-'])});return o};
const lookup=(t,l)=>v=>{const i=t.indexOf(v);return i<0?'':l[i]};
const fmtMinus=v=>{const s=Math.abs(v).toFixed(1);return (v<0?'−':'')+s};
const hiddenAxis=(min,max,gridIndex,inverse)=>({type:'value',gridIndex,min,max,show:false,inverse:!!inverse,splitLine:{show:false},axisLine:{onZero:false}});
const P={L:{left:335,top:275,width:3089,height:2387},R:{left:3877,top:498,width:2906,height:2146}};
const noLine={show:false,onZero:false};

const grids=[
 {...P.L,show:true,borderColor:'#000',borderWidth:3,backgroundColor:'transparent',z:20},
 {...P.L},
 {...P.L},
 {...P.R,show:true,borderColor:'#000',borderWidth:3,backgroundColor:'transparent',z:20},
 {...P.R},
 {...P.R},
 {left:3877,top:498,width:2906,height:2122},
 {left:500,top:1989,width:678,height:525,show:true,backgroundColor:'#fff',borderColor:'#000',borderWidth:3,z:25},
 {left:387,top:3108,width:2983,height:150,show:true,borderColor:'#000',borderWidth:4,backgroundColor:'transparent',z:5},
 {left:3877,top:3092,width:2906,height:146,show:true,borderColor:'#000',borderWidth:4,backgroundColor:'transparent',z:5}
];
const tickStyle={show:true,length:14,lineStyle:{color:'#000',width:3}};
const axisLab=(size,margin)=>({show:true,fontFamily:SERIF,fontSize:size,color:'#000',margin});
const nameStyle=(size,fam)=>({fontFamily:fam||SERIF,fontSize:size,color:'#000'});
const xAxes=[
 {type:'value',gridIndex:0,min:147.1,max:1503.9,axisLine:noLine,splitLine:{show:false},
  axisTick:{...tickStyle,customValues:raTicksL},axisLabel:{...axisLab(68,20),customValues:raTicksL,formatter:lookup(raTicksL,raLabels)},
  name:'RA [J2000]',nameLocation:'middle',nameGap:125,nameTextStyle:nameStyle(70)},
 hiddenAxis(-2773.4,3281,1),
 hiddenAxis(-2895,6372,2),
 {type:'value',gridIndex:3,position:'bottom',min:134.8,max:1411.2,axisLine:noLine,splitLine:{show:false},
  axisTick:{...tickStyle,customValues:raTicksR},axisLabel:{...axisLab(68,20),customValues:raTicksR,formatter:lookup(raTicksR,raLabels)},
  name:'RA [J2000]',nameLocation:'middle',nameGap:125,nameTextStyle:nameStyle(70)},
 {type:'value',gridIndex:3,position:'top',min:134.8,max:1411.2,axisLine:noLine,splitLine:{show:false},
  axisTick:{...tickStyle,customValues:lonTicks},axisLabel:{...axisLab(68,26),customValues:lonTicks,formatter:lookup(lonTicks,lonLabels)},
  name:'Galactic Longitude (l)',nameLocation:'middle',nameGap:130,nameTextStyle:nameStyle(66,SANS)},
 hiddenAxis(-506.5,4050,5),
 {type:'category',gridIndex:6,show:false,data:heatRows[0].replace(/ /g,'').split('').map((_,i)=>i)},
 {type:'value',gridIndex:7,min:-588,max:134.6,splitLine:{show:false},z:30,axisLine:noLine,
  axisTick:{show:true,length:14,lineStyle:{color:'#000',width:3},customValues:[-400,-200,0]},
  axisLabel:{...axisLab(41,20),customValues:[-400,-200,0],formatter:v=>v<0?'−'+(-v):''+v},
  name:'RM[rad m⁻²]',nameLocation:'middle',nameGap:82,nameTextStyle:nameStyle(47)},
 {type:'category',gridIndex:8,show:false,data:scatterColors.map((_,i)=>i)},
 {type:'value',gridIndex:8,position:'bottom',min:-557,max:103,axisLine:noLine,splitLine:{show:false},
  axisTick:{...tickStyle,customValues:scatterEdges},axisLabel:{...axisLab(59,18),customValues:scatterEdgeLabels,formatter:fmtMinus},
  name:'RM Scatter [{i|rad m⁻²}]',nameLocation:'middle',nameGap:125,
  nameTextStyle:{...nameStyle(70),rich:{i:{fontFamily:'"DejaVu Sans"',fontStyle:'italic',fontSize:66}}}},
 {type:'category',gridIndex:9,show:false,data:heatColors.map((_,i)=>i)},
 {type:'value',gridIndex:9,position:'bottom',min:-243,max:215,axisLine:noLine,splitLine:{show:false},
  axisTick:{...tickStyle,customValues:heatEdges},axisLabel:{...axisLab(59,18),customValues:heatEdgeLabels,formatter:fmtMinus},
  name:'Smooth RM Intensity (4{g|σ} clipped) [{i|rad m⁻²}]',nameLocation:'middle',nameGap:125,
  nameTextStyle:{...nameStyle(66),rich:{i:{fontFamily:'"DejaVu Sans"',fontStyle:'italic',fontSize:62},g:{fontFamily:'"DejaVu Sans"',fontStyle:'italic',fontSize:60}}}},
 hiddenAxis(134.8,1411.2,4)
];
const yAxes=[
 {type:'value',gridIndex:0,inverse:true,min:239.5,max:2318.9,axisLine:noLine,splitLine:{show:false},
  axisTick:{...tickStyle,customValues:decTicksL},axisLabel:{...axisLab(68,26),customValues:decTicksL,formatter:lookup(decTicksL,decLabelsL)},
  name:'Dec [J2000]',nameLocation:'middle',nameGap:170,nameRotate:90,nameTextStyle:nameStyle(70)},
 hiddenAxis(-1185.3,800.2,0,true),
 hiddenAxis(-637,4041.5,1,true),
 hiddenAxis(-4095,3066,2,true),
 {type:'value',gridIndex:3,position:'left',inverse:true,min:433.8,max:2303,axisLine:noLine,splitLine:{show:false},
  axisTick:{...tickStyle,customValues:decTicksR},axisLabel:{...axisLab(68,26),customValues:decTicksR,formatter:lookup(decTicksR,decLabelsR)},
  name:'Dec [J2000]',nameLocation:'middle',nameGap:170,nameRotate:90,nameTextStyle:nameStyle(70)},
 {type:'value',gridIndex:3,position:'right',inverse:true,min:433.8,max:2303,axisLine:noLine,splitLine:{show:false},
  axisTick:{...tickStyle,customValues:latTicks},axisLabel:{...axisLab(68,24),customValues:latTicks,formatter:lookup(latTicks,latLabels)},
  name:'Galactic Latitude (b)',nameLocation:'middle',nameGap:220,nameRotate:-90,nameTextStyle:nameStyle(66,SANS)},
 hiddenAxis(-999.8,785.2,4,true),
 hiddenAxis(-1492.7,1872.2,5,true),
 {type:'category',gridIndex:6,show:false,inverse:true,data:heatRows.map((_,i)=>i)},
 {type:'value',gridIndex:7,min:0,max:740,splitLine:{show:false},z:30,axisLine:noLine,
  axisTick:{show:true,length:14,lineStyle:{color:'#000',width:3},customValues:[0,200,400,600]},
  axisLabel:{...axisLab(41,20),customValues:[0,200,400,600]},
  name:'Counts',nameLocation:'middle',nameGap:105,nameRotate:90,nameTextStyle:nameStyle(55)},
 {type:'category',gridIndex:8,show:false,data:[0]},
 {type:'category',gridIndex:9,show:false,data:[0]}
];
const dots=(name,data,color,xi,yi,z)=>({type:'scatter',name,xAxisIndex:xi,yAxisIndex:yi,data,symbol:'circle',symbolSize:20,z:z||4,
  itemStyle:{color,opacity:.95},silent:true});
const gratL=(data,xi,yi)=>({type:'line',xAxisIndex:xi,yAxisIndex:yi,data:joined(data),smooth:.4,showSymbol:false,z:2,lineStyle:{color:'#9a9a9a',width:3},silent:true});
const cont=(name,data,xi,yi,style)=>({type:'line',name,xAxisIndex:xi,yAxisIndex:yi,data:joined(data),smooth:.35,showSymbol:false,z:6,lineStyle:style,silent:true});
const hiStyle={color:'#000',width:3.5}, radioStyle={color:'rgba(45,45,45,.55)',width:8};
const gridLines=[...[-400,-200,0].flatMap(v=>[[v,0],[v,740],['-','-']]),...[200,400,600].flatMap(v=>[[-588,v],[134.6,v],['-','-']])];
const bandData=bandColors.map((c,i)=>[scatterEdges[i],scatterEdges[i+1],704,i]);
const histData=histStart.map((s,i)=>[s,s+33,histCounts[i]]);
const heatData=[];
heatRows.forEach((row,r)=>row.replace(/ /g,'').padEnd(73,'0').slice(0,73).split('').forEach((ch,c)=>heatData.push([c,r,parseInt(ch,14)])));
const rectBox=(api,x0,x1,y)=>{const a=api.coord([x0,y]),b=api.coord([x1,0]);return {x:a[0],y:a[1],width:b[0]-a[0],height:b[1]-a[1]}};
const INSET_NAME='R̅M̅ = -62.24 [rad m⁻²]';
const mark=(name,pos,xi,yi,symbol,size,color)=>({type:'scatter',name,xAxisIndex:xi,yAxisIndex:yi,data:[pos],symbol,symbolSize:size,z:8,silent:true,itemStyle:{color,opacity:1,borderColor:'#000',borderWidth:4}});
const beam=(pos,xi,yi,symbol,size,w)=>({type:'scatter',xAxisIndex:xi,yAxisIndex:yi,data:[pos],symbol,symbolSize:size,z:8,silent:true,itemStyle:{color:'rgba(0,0,0,0)',opacity:1,borderColor:'#000',borderWidth:w}});
const series=[
 {type:'heatmap',name:'> Rvir',xAxisIndex:6,yAxisIndex:8,data:heatData,z:1,silent:true,progressive:0,itemStyle:{borderWidth:0}},
 {type:'heatmap',xAxisIndex:8,yAxisIndex:10,data:scatterColors.map((_,i)=>[i,0,i]),z:1,silent:true},
 {type:'heatmap',xAxisIndex:10,yAxisIndex:11,data:heatColors.map((_,i)=>[i,0,i]),z:1,silent:true},
 gratL(gratDecL,0,0),gratL(gratRaL,0,0),
 dots('gray',ptsGrayA,'#7f7f7f',0,0),dots('gray',ptsGrayB,'#7f7f7f',0,1),
 dots('light',ptsLightA,'#c7c7c7',0,0),dots('light',ptsLightB,'#c7c7c7',0,1),
 dots('pink',ptsPinkA,'#e377c2',0,0),dots('pink',ptsPinkB,'#e377c2',0,1),
 dots('tan',ptsTanA,'#c49c94',0,0),dots('brown',ptsBrownA,'#8c564b',0,0),
 dots('khaki',ptsKhakiA,'#dbdb8d',0,0),dots('khaki',ptsKhakiB,'#dbdb8d',0,1),
 dots('cyan',ptsCyanA,'#9edae5',0,0),dots('cyan',ptsCyanB,'#9edae5',0,1),
 dots('blue',ptsBlueB,'#1f77b4',0,1),
 cont('HI',hiM31,1,2,hiStyle),cont('HI',hiOther,0,0,hiStyle),cont('HI',hiM33,2,3,hiStyle),
 mark('M31',m31Left,0,0,'rect',41,'#0000ff'),
 mark('M33',m33Left,0,0,'triangle',40,'#0000ff'),
 beam(beamLeft,0,0,'rect',[146,161],7),
 beam(beamLeft,0,0,'circle',[96,108],6),
 {type:'line',xAxisIndex:3,yAxisIndex:4,data:joined(gratSolidR),smooth:.4,showSymbol:false,z:5,silent:true,lineStyle:{color:'rgba(40,40,50,.65)',width:3}},
 {type:'line',xAxisIndex:3,yAxisIndex:4,data:joined(gratDashR),smooth:.4,showSymbol:false,z:5,silent:true,lineStyle:{color:'rgba(40,40,50,.65)',width:3,type:[12,8]}},
 cont('485 MHz',radioC,3,4,radioStyle),cont('485 MHz',radioF,12,6,radioStyle),cont('485 MHz',radioG,5,7,radioStyle),
 mark('M31',m31Right,3,4,'rect',41,'#ff0000'),
 mark('M33',m33Right,3,4,'triangle',40,'#ff0000'),
 beam(beamRight,3,4,'rect',[146,148],7),
 beam(beamRight,3,4,'circle',[88,100],6),
 {type:'custom',xAxisIndex:7,yAxisIndex:9,data:bandData,z:26,silent:true,encode:{x:[0,1],y:2},
  renderItem:(p,api)=>({type:'rect',shape:rectBox(api,api.value(0),api.value(1),api.value(2)),style:{fill:bandColors[api.value(3)]}})},
 {type:'line',xAxisIndex:7,yAxisIndex:9,data:gridLines,showSymbol:false,z:27,silent:true,lineStyle:{color:'#b0b0b0',width:3}},
 {type:'custom',xAxisIndex:7,yAxisIndex:9,data:histData,z:28,silent:true,encode:{x:[0,1],y:2},
  renderItem:(p,api)=>({type:'rect',shape:rectBox(api,api.value(0),api.value(1),api.value(2)),style:{fill:'#fff',stroke:'#000',lineWidth:3.5}})},
 {type:'line',name:INSET_NAME,xAxisIndex:7,yAxisIndex:9,data:[[meanRM,0],[meanRM,740]],showSymbol:false,z:29,silent:true,lineStyle:{color:'#ff0000',width:3}}
];
const pieces=cols=>cols.map((color,value)=>({value,color}));
const leg=(name,left,top,itemWidth,itemHeight,icon,style,font)=>({
  data:[{name,icon,itemStyle:style}],left,top,itemWidth,itemHeight,padding:0,selectedMode:false,orient:'horizontal',
  textStyle:{fontFamily:SERIF,fontSize:font,color:'#000',rich:{s:{fontFamily:'"DejaVu Sans"',fontStyle:'italic',fontSize:52,verticalAlign:'bottom'}}},
  formatter:n=>n==='> Rvir'?'> R{s|vir}':n});
const SQ='path://M0 0H10V10H0Z', TRI='path://M5 0L10 10H0Z';
const blk={borderColor:'#000',borderWidth:4};
const option={
 animation:false,backgroundColor:'#fff',
 grid:grids,xAxis:xAxes,yAxis:yAxes,series,
 visualMap:[
  {type:'piecewise',show:false,seriesIndex:0,dimension:2,pieces:pieces(heatColors)},
  {type:'piecewise',show:false,seriesIndex:1,dimension:2,pieces:pieces(scatterColors)},
  {type:'piecewise',show:false,seriesIndex:2,dimension:2,pieces:pieces(heatColors)}],
 legend:[
  leg('M31',1240,104,286,47,SQ,{color:'#0000ff',...blk},78),
  leg('M33',1782,104,280,47,TRI,{color:'#0000ff',...blk},78),
  leg('HI',2266,104,280,5,'path://M0 0H33V1H0Z',{color:'#000'},78),
  leg('M31',4282,158,286,46,SQ,{color:'#ff0000',...blk},78),
  leg('M33',4826,158,290,46,TRI,{color:'#ff0000',...blk},78),
  leg('485 MHz',5312,158,286,9,'path://M0 0H19V1H0Z',{color:'#000',opacity:1},78),
  leg('> Rvir',6018,158,288,61,'path://M0 0H166V61H0Z',{color:'#868b9c'},78),
  leg(INSET_NAME,584,1928,138,3,'path://M0 0H28V1H0Z',{color:'#ff0000'},41)
 ]
};
const host=document.getElementById('c');
host.style.transform='scale('+(window.innerWidth/7140)+','+(window.innerHeight/3585)+')';
const chart=echarts.init(host,null,{renderer:'canvas',width:7140,height:3585});
chart.setOption(option);
</script>
</body></html>
